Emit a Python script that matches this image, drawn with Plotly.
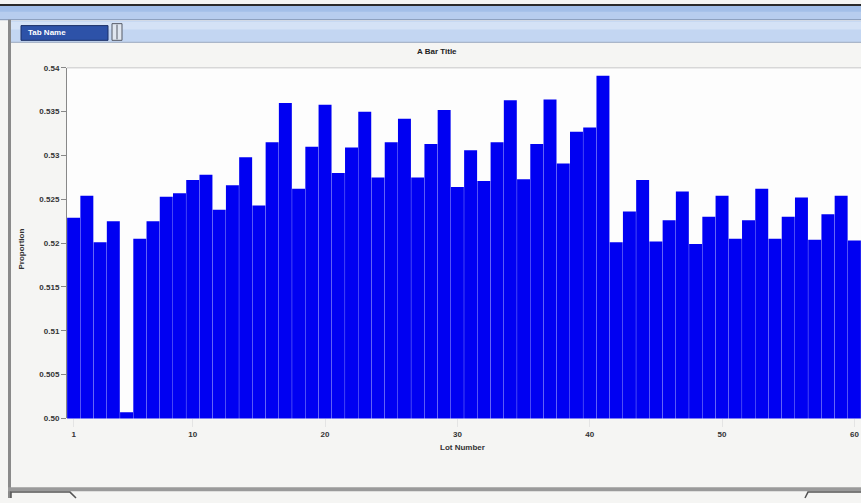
import plotly.graph_objects as go

# ---- data ----
lots = list(range(1, 61))
values = [
    0.5229, 0.5254, 0.5201, 0.5225, 0.5007, 0.5205, 0.5225, 0.5253, 0.5257, 0.5272,
    0.5278, 0.5238, 0.5266, 0.5298, 0.5243, 0.5315, 0.5360, 0.5262, 0.5310, 0.5358,
    0.5280, 0.5309, 0.5350, 0.5275, 0.5315, 0.5342, 0.5275, 0.5313, 0.5352, 0.5264,
    0.5306, 0.5271, 0.5315, 0.5363, 0.5273, 0.5313, 0.5364, 0.5291, 0.5327, 0.5332,
    0.5391, 0.5201, 0.5236, 0.5272, 0.5202, 0.5226, 0.5259, 0.5199, 0.5230, 0.5254,
    0.5205, 0.5226, 0.5262, 0.5205, 0.5230, 0.5252, 0.5204, 0.5233, 0.5254, 0.5203,
]
y_tickvals = [0.50, 0.505, 0.51, 0.515, 0.52, 0.525, 0.53, 0.535, 0.54]
y_ticktext = ["0.50", "0.505", "0.51", "0.515", "0.52", "0.525", "0.53", "0.535", "0.54"]
x_tickvals = [1, 10, 20, 30, 40, 50, 60]
x_ticktext = ["1", "10", "20", "30", "40", "50", "60"]

chart_title = "A Bar Title"
x_title = "Lot Number"
y_title = "Proportion"
tab_label = "Tab Name"

W, H = 861, 503
PL, PR, PT, PB = 67, 861, 65, 422  # plot area in pixels


def px(x):
    return x / W


def py(y):
    return 1 - y / H


FONT = "Liberation Sans, Arial, sans-serif"

fig = go.Figure()
fig.add_trace(go.Bar(
    x=lots, y=values,
    marker=dict(color="#0000f2", line=dict(width=0)),
    hoverinfo="x+y",
))

shapes = []
# title bar gradient (approximated with bands)
shapes.append(dict(type="rect", xref="paper", yref="paper", x0=0, x1=1, y0=py(16), y1=py(0),
                   fillcolor="#b7cdee", line=dict(width=0), layer="below"))
shapes.append(dict(type="rect", xref="paper", yref="paper", x0=0, x1=1, y0=py(8), y1=py(2),
                   fillcolor="#a3bfe8", line=dict(width=0), layer="below"))
shapes.append(dict(type="line", xref="paper", yref="paper", x0=0, x1=1, y0=py(1), y1=py(1),
                   line=dict(color="#2b2b2b", width=2)))
shapes.append(dict(type="line", xref="paper", yref="paper", x0=0, x1=1, y0=py(16), y1=py(16),
                   line=dict(color="#7f93b3", width=1)))
# tab strip
shapes.append(dict(type="rect", xref="paper", yref="paper", x0=px(10), x1=1, y0=py(39), y1=py(17),
                   fillcolor="#c3d6f2", line=dict(width=0), layer="below"))
shapes.append(dict(type="rect", xref="paper", yref="paper", x0=px(10), x1=1, y0=py(26), y1=py(18),
                   fillcolor="#d4e2f6", line=dict(width=0), layer="below"))
shapes.append(dict(type="line", xref="paper", yref="paper", x0=px(10), x1=1, y0=py(39), y1=py(39),
                   line=dict(color="#9aa8bf", width=1)))
# selected tab
shapes.append(dict(type="rect", xref="paper", yref="paper", x0=px(21), x1=px(108), y0=py(37), y1=py(22),
                   fillcolor="#2d52a8", line=dict(color="#1b2f66", width=1)))
# tab icon
shapes.append(dict(type="rect", xref="paper", yref="paper", x0=px(112), x1=px(122), y0=py(37), y1=py(20),
                   fillcolor="#dfe6f0", line=dict(color="#555a66", width=1)))
shapes.append(dict(type="line", xref="paper", yref="paper", x0=px(117), x1=px(117), y0=py(36), y1=py(21),
                   line=dict(color="#555a66", width=1)))
# left window border
shapes.append(dict(type="rect", xref="paper", yref="paper", x0=px(8), x1=px(11), y0=0, y1=py(16),
                   fillcolor="#8a8a8a", line=dict(width=0)))
# bottom border and tab outlines
shapes.append(dict(type="rect", xref="paper", yref="paper", x0=px(8), x1=1, y0=py(496), y1=py(492),
                   fillcolor="#9a9a9a", line=dict(width=0)))
shapes.append(dict(type="path", xref="paper", yref="paper",
                   path=f"M {px(11)},{py(503)} L {px(11)},{py(497)} L {px(70)},{py(497)} L {px(76)},{py(503)}",
                   line=dict(color="#555555", width=1.5)))
shapes.append(dict(type="path", xref="paper", yref="paper",
                   path=f"M {px(805)},{py(503)} L {px(808)},{py(497)} L {px(861)},{py(497)}",
                   line=dict(color="#555555", width=1.5)))
# plot area top border
shapes.append(dict(type="line", xref="paper", yref="paper", x0=px(PL), x1=1, y0=py(PT), y1=py(PT),
                   line=dict(color="#c8c8c8", width=1)))

tick_font = dict(family=FONT, size=8, color="#333333")

fig.update_layout(
    width=W, height=H,
    margin=dict(l=0, r=0, t=0, b=0),
    paper_bgcolor="#f5f5f3",
    plot_bgcolor="#fdfdfd",
    bargap=0.02,
    showlegend=False,
    font=dict(family=FONT, size=8, color="#333333"),
    shapes=shapes,
    xaxis=dict(
        domain=[px(PL), px(PR)],
        range=[0.5, 60.5],
        tickvals=x_tickvals, ticktext=[f"<b>{t}</b>" for t in x_ticktext],
        ticks="outside", ticklen=8, tickcolor="#e4e4e4",
        showgrid=False, zeroline=False, showline=False,
        tickfont=tick_font,
        fixedrange=True,
    ),
    yaxis=dict(
        domain=[py(PB), py(PT)],
        range=[0.50, 0.54],
        tickvals=y_tickvals, ticktext=[f"<b>{t}</b>" for t in y_ticktext],
        ticks="outside", ticklen=5, tickcolor="#888888",
        showgrid=False, zeroline=False,
        showline=True, linecolor="#888888", linewidth=1,
        tickfont=tick_font,
        fixedrange=True,
    ),
    annotations=[
        dict(text=f"<b>{chart_title}</b>", xref="paper", yref="paper", x=px(437), y=py(48),
             xanchor="center", yanchor="middle",
             showarrow=False, font=dict(family=FONT, size=8, color="#222222")),
        dict(text=f"<b>{x_title}</b>", xref="paper", yref="paper", x=px(462), y=py(452),
             xanchor="center", yanchor="middle",
             showarrow=False, font=dict(family=FONT, size=8, color="#333333")),
        dict(text=f"<b>{y_title}</b>", xref="paper", yref="paper", x=px(22), y=py(250),
             xanchor="center", yanchor="middle",
             showarrow=False, textangle=-90, font=dict(family=FONT, size=8, color="#333333")),
        dict(text=f"<b>{tab_label}</b>", xref="paper", yref="paper", x=px(26), y=py(29.5),
             xanchor="left", yanchor="middle",
             showarrow=False, font=dict(family=FONT, size=8, color="#ffffff")),
    ],
)

fig.write_html(
    "out.html",
    config={"displayModeBar": False},
    post_script="document.body.style.margin='0';document.body.style.overflow='hidden';",
)
